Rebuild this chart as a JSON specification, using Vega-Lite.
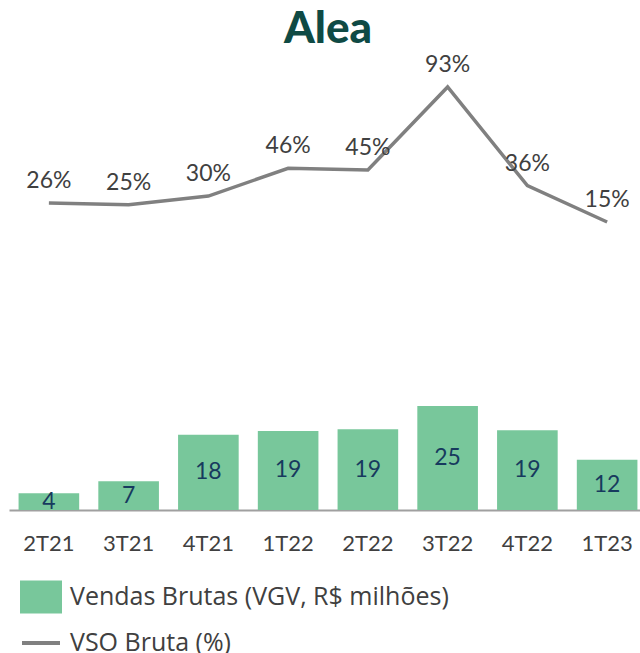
{
  "$schema": "https://vega.github.io/schema/vega-lite/v6.json",
  "width": 638,
  "height": 450,
  "autosize": {"type": "none"},
  "padding": {"left": 9, "top": 60, "right": 0, "bottom": 143},
  "background": "white",
  "title": {"text": "Alea", "font": "Lato", "fontSize": 44, "fontWeight": 900, "color": "#0f4a44", "offset": 2, "anchor": "middle"},
  "config": {"view": {"stroke": null}, "font": "Lato"},
  "data": {"values": [
    {"q": "2T21", "vgv": 4.0, "vso": 0.26},
    {"q": "3T21", "vgv": 6.9, "vso": 0.25},
    {"q": "4T21", "vgv": 18.1, "vso": 0.30},
    {"q": "1T22", "vgv": 19.0, "vso": 0.46},
    {"q": "2T22", "vgv": 19.4, "vso": 0.45},
    {"q": "3T22", "vgv": 25.0, "vso": 0.93},
    {"q": "4T22", "vgv": 19.2, "vso": 0.36},
    {"q": "1T23", "vgv": 12.1, "vso": 0.15}
  ]},
  "encoding": {
    "x": {"field": "q", "type": "nominal", "sort": null,
      "scale": {"paddingInner": 0.24, "paddingOuter": 0.12},
      "axis": {"title": null, "labelAngle": 0, "ticks": false, "labelFontSize": 22, "labelColor": "#404040", "labelPadding": 23, "domainColor": "#a0a0a0", "domainWidth": 2, "labelFont": "Lato"}}
  },
  "layer": [
    {
      "mark": {"type": "bar", "color": "#78c79b"},
      "encoding": {
        "y": {"field": "vgv", "type": "quantitative", "scale": {"domain": [0, 108.2], "nice": false, "zero": true}, "axis": null},
        "color": {"datum": "Vendas Brutas (VGV, R$ milhões)", "type": "nominal",
          "scale": {"domain": ["Vendas Brutas (VGV, R$ milhões)", "VSO Bruta (%)"], "range": ["#78c79b", "#808080"]},
          "legend": {"title": null, "orient": "none", "legendX": 11, "legendY": 516, "labelFontSize": 25, "labelColor": "#404040", "labelOffset": 8, "labelLimit": 600, "rowPadding": 2, "symbolSize": 1444, "labelFont": "Open Sans",
            "encode": {"symbols": {"update": {
              "shape": {"signal": "datum.value === 'VSO Bruta (%)' ? 'M-1,0H1' : 'M-1,-0.76H1V0.76H-1Z'"},
              "fill": {"signal": "datum.value === 'VSO Bruta (%)' ? 'transparent' : '#78c79b'"},
              "stroke": {"signal": "datum.value === 'VSO Bruta (%)' ? '#808080' : 'transparent'"},
              "strokeWidth": {"value": 4},
              "opacity": {"value": 1},
              "fillOpacity": {"value": 1}
            }}}}
        }
      }
    },
    {
      "mark": {"type": "text", "fontSize": 23, "color": "#173a5e", "baseline": "middle", "font": "Lato"},
      "encoding": {
        "y": {"field": "vgv", "type": "quantitative", "scale": {"domain": [0, 216.4], "nice": false}, "axis": null},
        "text": {"field": "vgv", "type": "quantitative", "format": ".0f"}
      }
    },
    {
      "mark": {"type": "line", "color": "#808080", "strokeWidth": 3.5},
      "encoding": {
        "y": {"field": "vso", "type": "quantitative", "scale": {"domain": [-1.514, 1.086], "nice": false, "zero": false}, "axis": null},
        "color": {"datum": "VSO Bruta (%)", "type": "nominal"}
      }
    },
    {
      "mark": {"type": "text", "fontSize": 23, "color": "#404040", "baseline": "alphabetic", "dy": -15, "font": "Lato"},
      "encoding": {
        "y": {"field": "vso", "type": "quantitative", "scale": {"domain": [-1.514, 1.086], "nice": false, "zero": false}, "axis": null},
        "text": {"field": "vso", "type": "quantitative", "format": ".0%"}
      }
    }
  ],
  "resolve": {"scale": {"y": "independent"}}
}
